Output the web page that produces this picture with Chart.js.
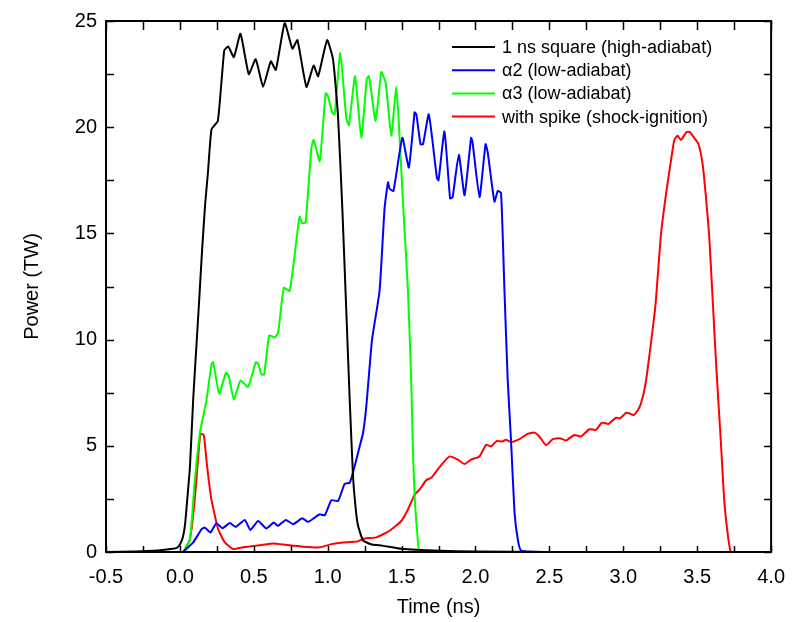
<!DOCTYPE html>
<html><head><meta charset="utf-8">
<script src="https://cdn.jsdelivr.net/npm/chart.js@4/dist/chart.umd.min.js"></script>
<style>html,body{margin:0;padding:0;background:#fff;}#wrap{width:798px;height:622px;}</style>
</head><body><div id="wrap"><canvas id="c" width="798" height="622"></canvas></div>
<script>
// ---- data (time in ns, power in TW) ----
const seriesLabels = ["1 ns square (high-adiabat)", "\u03b12 (low-adiabat)", "\u03b13 (low-adiabat)", "with spike (shock-ignition)"];
const seriesColors = ["#000000", "#0000ff", "#00ff00", "#ff0000"];

const squareT = [-0.5,-0.3,-0.15,-0.05,-0.02,0.0,0.02,0.035,0.05,0.068,0.09,0.11,0.13,0.15,0.17,0.19,0.214,0.257,0.30,0.327,0.365,0.41,0.466,0.513,0.563,0.615,0.649,0.709,0.761,0.795,0.856,0.905,0.935,0.996,1.036,1.07,1.10,1.125,1.149,1.171,1.19,1.205,1.239,1.30,1.37,1.5,1.76,2.0,2.5,3.0];
const squareP = [0,0.02,0.07,0.15,0.2,0.35,0.7,1.3,2.5,4.0,7.2,9.5,11.8,14.2,16.3,17.9,19.9,20.3,23.6,23.8,23.3,24.4,22.5,23.2,21.9,23.1,22.7,24.9,23.7,24.1,21.9,22.9,22.4,24.1,23.2,20.5,16.0,11.5,7.15,3.6,2.0,1.25,0.55,0.35,0.3,0.15,0.06,0.02,0,0];

const alpha2T = [0.022,0.09,0.146,0.169,0.207,0.247,0.288,0.338,0.378,0.439,0.477,0.529,0.585,0.635,0.664,0.716,0.766,0.828,0.867,0.912,0.946,0.98,1.025,1.07,1.115,1.149,1.182,1.216,1.239,1.261,1.30,1.351,1.385,1.408,1.419,1.445,1.505,1.549,1.588,1.60,1.628,1.645,1.684,1.739,1.75,1.79,1.828,1.845,1.887,1.926,1.97,1.98,2.027,2.068,2.083,2.128,2.151,2.173,2.196,2.218,2.24,2.264,2.286,2.309,2.5,3.0];
const alpha2P = [0,0.45,1.07,1.15,0.92,1.36,1.12,1.36,1.18,1.51,1.04,1.46,1.11,1.39,1.23,1.51,1.31,1.59,1.42,1.62,1.78,1.73,2.44,2.4,3.21,3.26,4.03,4.97,5.59,6.84,10.0,12.3,16.2,17.4,17.1,17.0,19.5,18.1,20.7,20.6,19.2,19.2,20.6,17.6,17.5,19.8,16.65,16.7,18.7,16.8,19.5,19.3,16.7,19.2,18.8,16.5,17.0,16.9,12.3,8.1,5.3,1.86,0.6,0.06,0,0];

const alpha3T = [0.0,0.022,0.068,0.1,0.135,0.18,0.214,0.225,0.266,0.311,0.33,0.365,0.41,0.461,0.514,0.529,0.552,0.57,0.604,0.642,0.665,0.703,0.743,0.793,0.81,0.828,0.851,0.889,0.905,0.946,0.986,1.0,1.03,1.047,1.085,1.126,1.144,1.185,1.227,1.265,1.28,1.324,1.363,1.392,1.43,1.464,1.486,1.509,1.543,1.565,1.576,1.588,1.604,1.62,1.7,2.0];
const alpha3P = [0,0,0.6,3.3,5.6,7.15,8.86,8.94,7.46,8.43,8.3,7.18,8.08,7.77,8.94,8.86,8.36,8.36,10.19,10.1,10.34,12.44,12.29,14.94,15.79,15.48,15.53,18.99,19.4,18.4,21.6,21.5,20.7,20.6,23.5,20.4,20.1,22.4,19.5,22.3,22.4,20.3,22.6,22.1,19.6,21.9,19.6,16.5,12.3,8.1,4.97,2.63,1.07,0.06,0,0];

const spikeT = [0.0,0.022,0.068,0.101,0.124,0.139,0.162,0.184,0.213,0.259,0.304,0.36,0.428,0.518,0.63,0.72,0.833,0.946,1.025,1.103,1.182,1.205,1.25,1.329,1.419,1.498,1.543,1.588,1.622,1.666,1.7,1.757,1.824,1.88,1.926,1.97,2.027,2.072,2.105,2.144,2.18,2.207,2.24,2.297,2.353,2.399,2.432,2.478,2.522,2.57,2.613,2.669,2.714,2.77,2.815,2.855,2.9,2.95,2.977,3.02,3.04,3.07,3.10,3.12,3.15,3.19,3.22,3.254,3.288,3.322,3.345,3.367,3.39,3.428,3.45,3.48,3.509,3.536,3.558,3.581,3.603,3.63,3.66,3.682,3.705,3.727,3.75];
const spikeP = [0,0,0.6,2.5,4.5,5.56,5.5,4.03,2.48,1.07,0.45,0.14,0.22,0.3,0.4,0.33,0.25,0.22,0.37,0.45,0.48,0.5,0.64,0.69,1.0,1.46,2.0,2.7,2.94,3.38,3.49,4.0,4.5,4.35,4.14,4.35,4.5,5.05,4.97,5.23,5.2,5.28,5.17,5.31,5.56,5.62,5.44,5.02,5.31,5.36,5.25,5.51,5.44,5.78,5.75,6.09,6.03,6.32,6.29,6.56,6.53,6.45,6.7,7.0,7.9,10.0,11.8,14.9,16.8,18.4,19.4,19.6,19.4,19.77,19.77,19.5,19.2,18.3,16.8,14.9,12.1,8.6,5.2,2.5,0.92,0,0];

const xTickMin = -0.5, xTickMax = 4.0, xTickStep = 0.5;
const yTickMin = 0, yTickMax = 25, yTickStep = 5;
const xTitle = "Time (ns)", yTitle = "Power (TW)";

// ---- build ----
const zip = (t, p) => t.map((v, i) => ({x: v, y: p[i]}));
const allT = [squareT, alpha2T, alpha3T, spikeT];
const allP = [squareP, alpha2P, alpha3P, spikeP];

const datasets = seriesLabels.map((lab, i) => ({
  label: lab,
  data: zip(allT[i], allP[i]),
  borderColor: seriesColors[i],
  backgroundColor: seriesColors[i],
  borderWidth: 2,
  pointRadius: 0,
  fill: false,
  tension: 0.15,
  borderJoinStyle: 'round'
}));

const FONT = "'Liberation Sans', Arial, sans-serif";

const framePlugin = {
  id: 'frame',
  afterDraw(chart) {
    const {ctx, chartArea: a} = chart;
    const xs = chart.scales.x, ys = chart.scales.y;
    ctx.save();
    ctx.strokeStyle = '#000';
    ctx.lineWidth = 1.5;
    ctx.beginPath();
    for (let v = xTickMin; v <= xTickMax + 1e-9; v += xTickStep / 2) {
      const px = Math.round(xs.getPixelForValue(v)) + 0.5;
      ctx.moveTo(px, a.bottom); ctx.lineTo(px, a.bottom - 6);
      ctx.moveTo(px, a.top); ctx.lineTo(px, a.top + 9);
    }
    for (let v = yTickMin; v <= yTickMax + 1e-9; v += yTickStep / 2) {
      const py = Math.round(ys.getPixelForValue(v)) + 0.5;
      ctx.moveTo(a.left, py); ctx.lineTo(a.left + 8, py);
      ctx.moveTo(a.right, py); ctx.lineTo(a.right - 7, py);
    }
    ctx.stroke();
    ctx.lineWidth = 2;
    ctx.strokeRect(a.left, a.top, a.right - a.left, a.bottom - a.top);
    // legend
    ctx.font = "18px " + FONT;
    ctx.textBaseline = 'middle';
    ctx.textAlign = 'left';
    chart.data.datasets.forEach((ds, i) => {
      const y = a.top + 26 + i * 23.2;
      const x0 = a.left + 346;
      ctx.strokeStyle = ds.borderColor;
      ctx.lineWidth = 2;
      ctx.beginPath(); ctx.moveTo(x0, y); ctx.lineTo(x0 + 43, y); ctx.stroke();
      ctx.fillStyle = '#000';
      ctx.fillText(ds.label, x0 + 50, y + 1);
    });
    ctx.restore();
  }
};

new Chart(document.getElementById('c'), {
  type: 'line',
  data: {datasets},
  options: {
    responsive: false,
    devicePixelRatio: 1,
    animation: false,
    events: [],
    layout: {padding: {left: 0, top: 18, right: 25, bottom: 0}},
    plugins: {legend: {display: false}, tooltip: {enabled: false}},
    scales: {
      x: {
        type: 'linear', min: xTickMin, max: xTickMax,
        grid: {display: false, drawTicks: false},
        border: {display: false},
        ticks: {stepSize: xTickStep, color: '#000', padding: 13, font: {family: FONT, size: 20},
                callback: v => Number(v).toFixed(1), maxRotation: 0, autoSkip: false},
        title: {display: true, text: xTitle, color: '#000', font: {family: FONT, size: 20}, padding: {top: 0, bottom: 3}},
        afterFit(s) { s.height = 70; }
      },
      y: {
        type: 'linear', min: yTickMin, max: yTickMax,
        grid: {display: false, drawTicks: false},
        border: {display: false},
        ticks: {stepSize: yTickStep, color: '#000', padding: 9, font: {family: FONT, size: 20}},
        title: {display: true, text: yTitle, color: '#000', font: {family: FONT, size: 20}, padding: {top: 20, bottom: 0}},
        afterFit(s) { s.width = 106; }
      }
    }
  },
  plugins: [framePlugin]
});
</script></body></html>
